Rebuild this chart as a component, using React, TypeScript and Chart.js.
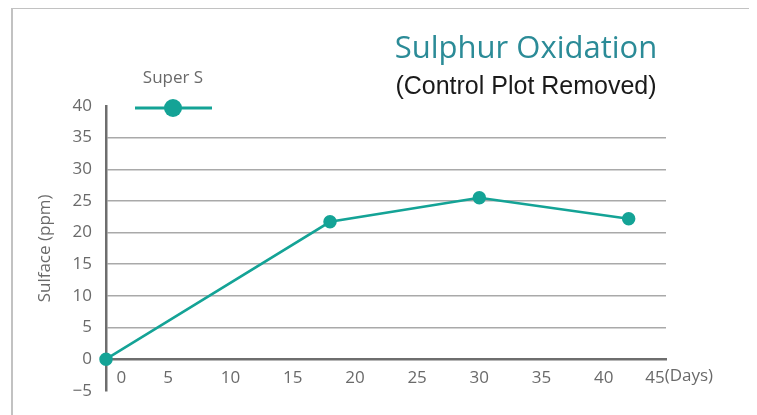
import React, { useEffect, useRef } from "react";
import { Chart, registerables } from "chart.js";

Chart.register(...registerables);

const days = [0, 18, 30, 42];
const superS = [0, 21.7, 25.5, 22.2];
const seriesName = "Super S";
const titleText = "Sulphur Oxidation";
const subtitleText = "(Control Plot Removed)";
const yTitle = "Sulface (ppm)";
const xUnit = "(Days)";
const yMin = -5;
const yMax = 40;
const xMin = 0;
const xMax = 45;
const tickStep = 5;

const TEAL = "#14a396";
const TITLE_TEAL = "#2b8b97";
const GRAY_TEXT = "#6a6a6a";
const AXIS = "#6e6e6e";
const TICK_FONT = "'Open Sans', sans-serif";
const LAST_PAD = "\u0020\u0020\u0020\u0020\u0020";

const decorPlugin = {
  id: "decor",
  afterDraw(chart: any) {
    const { ctx, chartArea, scales } = chart;
    ctx.save();
    const cx = chartArea.left + 420;
    ctx.textAlign = "center";
    ctx.textBaseline = "alphabetic";
    ctx.fillStyle = TITLE_TEAL;
    ctx.font = "31px 'Open Sans', sans-serif";
    ctx.fillText(titleText, cx, 49);
    ctx.fillStyle = "#1a1a1a";
    ctx.font = "25px 'Liberation Sans', Arial, sans-serif";
    ctx.fillText(subtitleText, cx, 85);

    const lx = chartArea.left + 67;
    const ly = chartArea.top + 2;
    ctx.fillStyle = GRAY_TEXT;
    ctx.font = "17px " + TICK_FONT;
    ctx.textBaseline = "middle";
    ctx.fillText(seriesName, lx, ly - 30);
    ctx.strokeStyle = TEAL;
    ctx.lineWidth = 3;
    ctx.beginPath();
    ctx.moveTo(lx - 38, ly);
    ctx.lineTo(lx + 39, ly);
    ctx.stroke();
    ctx.fillStyle = TEAL;
    ctx.beginPath();
    ctx.arc(lx, ly, 9, 0, Math.PI * 2);
    ctx.fill();

    const x = scales.x;
    const px = x.getPixelForValue(xMax);
    const py = scales.y.getPixelForValue(0);
    ctx.font = "17px " + TICK_FONT;
    const w45 = ctx.measureText(String(xMax)).width;
    const wAll = ctx.measureText(String(xMax) + LAST_PAD).width;
    ctx.fillStyle = GRAY_TEXT;
    ctx.textAlign = "left";
    ctx.textBaseline = "top";
    ctx.fillText(xUnit, px - wAll / 2 + w45, py + 9);
    ctx.restore();
  },
};

export default function App() {
  const ref = useRef<HTMLCanvasElement | null>(null);
  useEffect(() => {
    if (!ref.current) return;
    const chart = new Chart(ref.current, {
      type: "line",
      data: {
        datasets: [
          {
            label: seriesName,
            data: days.map((d, i) => ({ x: d, y: superS[i] })),
            borderColor: TEAL,
            backgroundColor: TEAL,
            pointBackgroundColor: TEAL,
            pointBorderColor: TEAL,
            borderWidth: 2.5,
            pointRadius: 5.5,
            tension: 0,
            clip: false as any,
          },
        ],
      },
      options: {
        animation: false,
        responsive: false,
        layout: { padding: { left: 10, right: 83, top: 97, bottom: 14 }, autoPadding: false },
        plugins: {
          legend: { display: false },
          title: { display: false },
          tooltip: { enabled: false },
        },
        scales: {
          x: {
            type: "linear",
            position: { y: 0 } as any,
            min: xMin,
            max: xMax,
            grid: { display: false, drawTicks: false },
            border: { display: true, color: AXIS, width: 2.5 },
            ticks: {
              stepSize: tickStep,
              padding: 9,
              color: GRAY_TEXT,
              font: { family: TICK_FONT, size: 17 },
              maxRotation: 0,
              autoSkip: false,
              callback: (v: any) =>
                v === 0 ? "       0" : v === xMax ? String(v) + LAST_PAD : String(v),
            },
          },
          y: {
            type: "linear",
            min: yMin,
            max: yMax,
            afterFit: (s: any) => {
              s.width = 83;
            },
            grid: {
              drawTicks: false,
              color: (c: any) =>
                c.tick && c.tick.value > 0 && c.tick.value < yMax ? "#a9a9a9" : "rgba(0,0,0,0)",
              lineWidth: 1.5,
            },
            border: { display: true, color: AXIS, width: 2.5 },
            ticks: {
              stepSize: tickStep,
              padding: 14,
              color: GRAY_TEXT,
              font: { family: TICK_FONT, size: 17 },
              callback: (v: any) => (v < 0 ? "\u2212" + Math.abs(v) : String(v)),
            },
            title: {
              display: true,
              text: yTitle,
              color: GRAY_TEXT,
              font: { family: TICK_FONT, size: 17 },
              padding: { top: 12, bottom: 0 },
            },
          },
        },
      },
      plugins: [decorPlugin],
    });
    return () => chart.destroy();
  }, []);
  return (
    <div
      style={{
        marginLeft: 3,
        marginTop: -1,
        border: "2px solid #c2c2c2",
        width: 736,
        height: 420,
        boxSizing: "content-box",
      }}
    >
      <canvas ref={ref} width={736} height={406} style={{ display: "block" }} />
    </div>
  );
}
